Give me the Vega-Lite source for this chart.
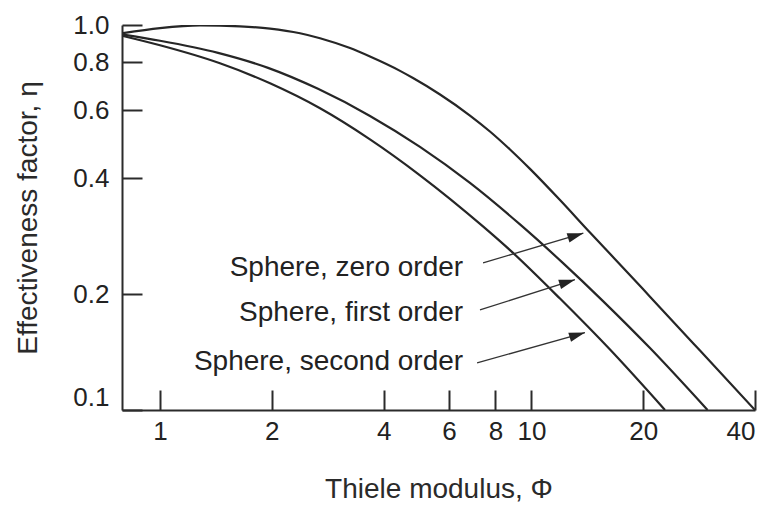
{
  "$schema": "https://vega.github.io/schema/vega-lite/v6.json",
  "autosize": "none",
  "width": 633,
  "height": 385,
  "padding": {"left": 122, "top": 25, "right": 14, "bottom": 95},
  "background": "white",
  "config": {
    "font": "Liberation Sans",
    "view": {"stroke": null},
    "axis": {
      "grid": false,
      "domainColor": "#2b2b2b",
      "domainWidth": 2,
      "tickColor": "#2b2b2b",
      "tickWidth": 2,
      "tickSize": -20,
      "labelFont": "Liberation Sans",
      "labelFontSize": 26,
      "labelColor": "#222222",
      "titleFont": "Liberation Sans",
      "titleFontSize": 28,
      "titleFontWeight": "normal",
      "titleColor": "#2a2a2a"
    }
  },
  "datasets": {
    "curves": [
      {"series": "zero", "phi": 0.795, "eta": 0.953},
      {"series": "zero", "phi": 1.0, "eta": 0.982},
      {"series": "zero", "phi": 1.281, "eta": 0.998},
      {"series": "zero", "phi": 1.642, "eta": 0.992},
      {"series": "zero", "phi": 1.978, "eta": 0.979},
      {"series": "zero", "phi": 2.382, "eta": 0.952},
      {"series": "zero", "phi": 2.697, "eta": 0.924},
      {"series": "zero", "phi": 3.248, "eta": 0.871},
      {"series": "zero", "phi": 3.676, "eta": 0.828},
      {"series": "zero", "phi": 4.429, "eta": 0.76},
      {"series": "zero", "phi": 4.8, "eta": 0.728},
      {"series": "zero", "phi": 5.675, "eta": 0.66},
      {"series": "zero", "phi": 6.833, "eta": 0.582},
      {"series": "zero", "phi": 7.734, "eta": 0.529},
      {"series": "zero", "phi": 8.757, "eta": 0.475},
      {"series": "zero", "phi": 9.913, "eta": 0.423},
      {"series": "zero", "phi": 11.94, "eta": 0.351},
      {"series": "zero", "phi": 14.38, "eta": 0.289},
      {"series": "zero", "phi": 16.8, "eta": 0.2465},
      {"series": "zero", "phi": 20.86, "eta": 0.197},
      {"series": "zero", "phi": 28.44, "eta": 0.1427},
      {"series": "zero", "phi": 40, "eta": 0.1},
      {"series": "first", "phi": 0.795, "eta": 0.944},
      {"series": "first", "phi": 1.0, "eta": 0.91},
      {"series": "first", "phi": 1.433, "eta": 0.8466},
      {"series": "first", "phi": 1.954, "eta": 0.7739},
      {"series": "first", "phi": 2.663, "eta": 0.6826},
      {"series": "first", "phi": 3.676, "eta": 0.5805},
      {"series": "first", "phi": 5.012, "eta": 0.4824},
      {"series": "first", "phi": 6.833, "eta": 0.3889},
      {"series": "first", "phi": 9.318, "eta": 0.3034},
      {"series": "first", "phi": 12.17, "eta": 0.2407},
      {"series": "first", "phi": 15.59, "eta": 0.1918},
      {"series": "first", "phi": 20.86, "eta": 0.1448},
      {"series": "first", "phi": 29.8, "eta": 0.1},
      {"series": "second", "phi": 0.795, "eta": 0.9364},
      {"series": "second", "phi": 1.0, "eta": 0.8858},
      {"series": "second", "phi": 1.45, "eta": 0.7954},
      {"series": "second", "phi": 1.978, "eta": 0.7057},
      {"series": "second", "phi": 2.697, "eta": 0.6078},
      {"series": "second", "phi": 3.676, "eta": 0.5047},
      {"series": "second", "phi": 5.012, "eta": 0.4071},
      {"series": "second", "phi": 7.407, "eta": 0.2999},
      {"series": "second", "phi": 8.757, "eta": 0.2602},
      {"series": "second", "phi": 11.94, "eta": 0.1947},
      {"series": "second", "phi": 16.28, "eta": 0.1435},
      {"series": "second", "phi": 22.89, "eta": 0.1}
    ],
    "arrows": [
      {"phi": 7.41, "eta": 0.241, "phi2": 13.8, "eta2": 0.288},
      {"phi": 7.27, "eta": 0.182, "phi2": 13.1, "eta2": 0.218},
      {"phi": 7.14, "eta": 0.1325, "phi2": 13.94, "eta2": 0.1589}
    ],
    "labels": [
      {"label": "Sphere, zero order", "phi": 6.55, "eta": 0.234},
      {"label": "Sphere, first order", "phi": 6.55, "eta": 0.1786},
      {"label": "Sphere, second order", "phi": 6.55, "eta": 0.1333}
    ]
  },
  "layer": [
    {
      "data": {"name": "curves"},
      "mark": {"type": "line", "color": "#262626", "strokeWidth": 2.2, "interpolate": "monotone", "clip": true},
      "encoding": {
        "x": {
          "field": "phi", "type": "quantitative",
          "scale": {"type": "log", "domain": [0.79, 40], "nice": false},
          "axis": {
            "values": [1, 2, 4, 6, 8, 10, 20, 40],
            "format": "d",
            "labelPadding": 28,
            "title": "Thiele modulus, Φ",
            "titlePadding": 31
          }
        },
        "y": {
          "field": "eta", "type": "quantitative",
          "scale": {"type": "log", "domain": [0.1, 1], "nice": false},
          "axis": {
            "values": [0.1, 0.2, 0.4, 0.6, 0.8, 1.0],
            "format": ".1f",
            "labelPadding": 33,
            "labelBaseline": {"condition": {"test": "datum.value < 0.15", "value": "bottom"}, "value": "middle"},
            "title": "Effectiveness factor, η",
            "titlePadding": 30
          }
        },
        "detail": {"field": "series"}
      }
    },
    {
      "data": {"name": "arrows"},
      "mark": {"type": "rule", "color": "#333333", "strokeWidth": 1.3},
      "encoding": {
        "x": {"field": "phi", "type": "quantitative"},
        "y": {"field": "eta", "type": "quantitative"},
        "x2": {"field": "phi2"},
        "y2": {"field": "eta2"}
      }
    },
    {
      "data": {"name": "arrows"},
      "mark": {"type": "point", "shape": "M0,0L-1,-0.3L-1,0.3Z", "filled": true, "color": "#222222", "opacity": 1, "size": 1024, "angle": -17},
      "encoding": {
        "x": {"field": "phi2", "type": "quantitative"},
        "y": {"field": "eta2", "type": "quantitative"}
      }
    },
    {
      "data": {"name": "labels"},
      "mark": {"type": "text", "align": "right", "baseline": "middle", "fontSize": 28, "color": "#222222", "font": "Liberation Sans"},
      "encoding": {
        "x": {"field": "phi", "type": "quantitative"},
        "y": {"field": "eta", "type": "quantitative"},
        "text": {"field": "label"}
      }
    }
  ]
}
